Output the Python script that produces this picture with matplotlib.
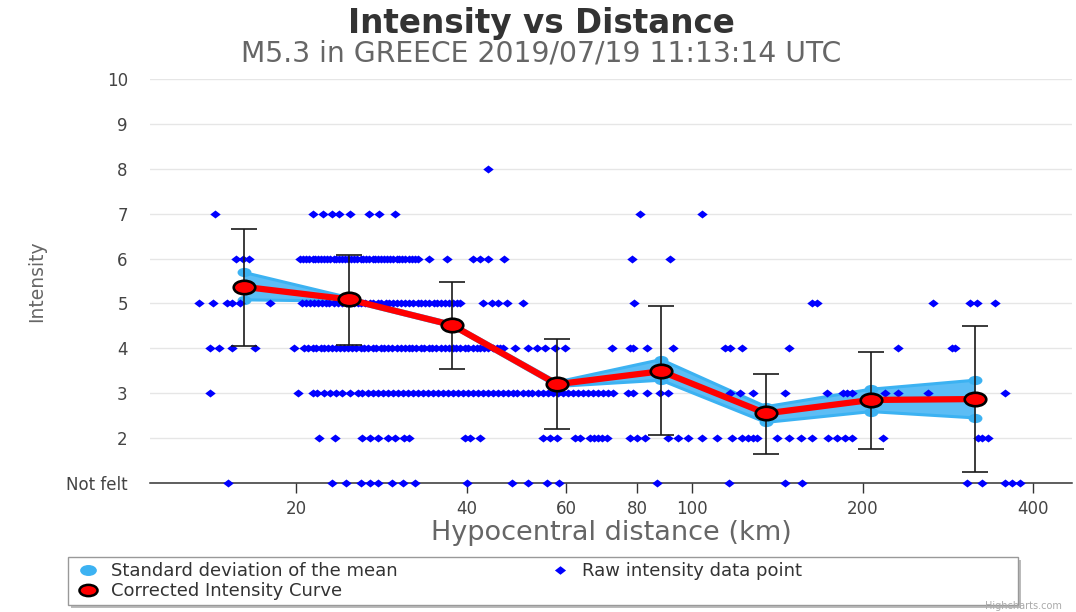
import matplotlib
matplotlib.use('Agg')
import matplotlib.pyplot as plt
from matplotlib.path import Path
from matplotlib.lines import Line2D
from matplotlib.patches import Rectangle

# ---------------- data ----------------
title = 'Intensity vs Distance'
subtitle = 'M5.3 in GREECE 2019/07/19 11:13:14 UTC'
x_label = 'Hypocentral distance (km)'
y_label = 'Intensity'
y_tick_values = [1, 2, 3, 4, 5, 6, 7, 8, 9, 10]
y_tick_labels = ['Not felt', '2', '3', '4', '5', '6', '7', '8', '9', '10']
x_tick_values = [20, 40, 60, 80, 100, 200, 400]
x_tick_labels = ['20', '40', '60', '80', '100', '200', '400']
legend_labels = ['Standard deviation of the mean', 'Corrected Intensity Curve',
                 'Raw intensity data point']

# raw observations: hypocentral distance (km) for each intensity level
raw_km_int1 = [15.2, 23.2, 24.5, 26.1, 27.0, 27.9, 29.6, 30.9, 32.5, 40.0, 48.2,
               51.4, 55.5, 58.3, 86.6, 116.2, 145.9, 156.6, 305.8, 325.0, 356.9,
               367.2, 379.3]
raw_km_int2 = [22.0, 23.4, 26.2, 27.0, 27.9, 29.1, 29.9, 31.0, 31.6, 39.7, 40.6,
               42.2, 54.6, 56.2, 57.8, 62.2, 63.4, 66.1, 67.1, 68.2, 69.3, 70.7,
               77.7, 80.0, 82.6, 90.7, 94.4, 98.4, 104.1, 110.6, 117.7, 122.5,
               125.6, 128.1, 130.2, 141.3, 148.3, 155.6, 162.8, 173.8, 180.4,
               186.2, 191.5, 217.2, 319.8, 325.2, 333.1]
raw_km_int3 = [14.1, 20.2, 21.4, 21.8, 22.4, 23.0, 23.5, 24.1, 24.9,
               25.7, 26.2, 26.8, 27.3, 27.9, 28.5, 29.1, 29.7, 30.3, 30.9, 31.5,
               32.2, 32.8, 33.5, 34.2, 34.9, 35.6, 36.3, 37.1, 37.8, 38.6, 39.4,
               40.2, 41.0, 41.9, 42.7, 43.6, 44.5, 45.4, 46.3, 47.3, 48.3, 49.2,
               50.3, 51.3, 52.3, 53.4, 54.5, 55.6, 56.8, 57.9, 59.1, 60.3, 61.6,
               62.8, 64.1, 65.5, 66.8, 68.2, 69.6, 71.0, 72.5,
               77.0, 78.8, 83.3, 87.8, 90.7, 116.7, 121.5, 128.1, 145.9, 173.1,
               184.5, 188.1, 191.3, 219.1, 231.5, 261.0, 356.9]
raw_km_int4 = [14.1, 14.6, 15.4, 16.9, 19.8,
               20.7, 21.0, 21.4, 21.7, 22.1, 22.4, 22.8, 23.2, 23.5, 23.9, 24.3,
               24.7, 25.1, 25.5, 26.0, 26.4, 26.8, 27.3, 27.7, 28.2, 28.6, 29.1,
               29.6, 30.1, 30.6, 31.1, 31.6, 32.1, 32.6, 33.2, 33.7, 34.3, 34.8,
               35.4, 36.0, 36.6, 37.2, 37.8, 38.4, 39.0, 39.7, 40.3, 41.0, 41.7,
               42.3, 43.0, 43.7, 44.5, 45.2, 45.9, 46.4,
               48.7, 51.4, 53.3, 55.0, 57.4, 59.7,
               72.3, 77.7, 78.8, 83.3, 92.5, 114.3, 116.7, 122.5, 148.3, 231.0,
               287.8, 291.5]
raw_km_int5 = [13.5, 14.3, 15.1, 15.4, 15.9, 18.0,
               20.5, 20.8, 21.2, 21.5, 21.9, 22.2, 22.6, 22.9, 23.3, 23.7, 24.1,
               24.5, 24.9, 25.3, 25.7, 26.1, 26.5, 27.0, 27.4, 27.9, 28.3, 28.8,
               29.2, 29.7, 30.2, 30.7, 31.2, 31.7, 32.2, 32.8, 33.3, 33.8, 34.4,
               35.0, 35.5, 36.1, 36.7, 37.3, 37.9, 38.5, 39.0,
               42.7, 44.4, 45.5, 47.1, 50.3, 79.0, 162.8, 166.2, 266.3, 309.6,
               318.5, 342.7]
raw_km_int6 = [15.7, 16.1, 16.5,
               20.3, 20.6, 20.8, 21.1, 21.4, 21.6, 21.9, 22.1, 22.4, 22.7, 23.0,
               23.3, 23.5, 23.8, 24.1, 24.4, 24.7, 25.0, 25.3, 25.6, 26.0, 26.3,
               26.6, 26.9, 27.3, 27.6, 27.9, 28.3, 28.6, 29.0, 29.3, 29.7, 30.1,
               30.4, 30.8, 31.2, 31.6, 32.0, 32.4, 32.9,
               34.3, 36.9, 41.1, 42.2, 43.6, 46.6, 78.3, 91.4]
raw_km_int7 = [14.4, 21.4, 22.3, 23.2, 23.8, 24.9, 26.9, 28.0, 29.9, 81.0, 104.2]
raw_km_int8 = [43.6]

# binned means
mean_km = [16.2, 24.8, 37.7, 57.8, 88.2, 135.1, 207.0, 316.0]
mean_intensity = [5.37, 5.09, 4.52, 3.20, 3.49, 2.55, 2.85, 2.87]
sdm_upper = [5.69, 5.13, 4.56, 3.25, 3.75, 2.70, 3.09, 3.29]
sdm_lower = [5.08, 5.05, 4.48, 3.15, 3.29, 2.35, 2.59, 2.45]
err_upper = [6.66, 6.09, 5.47, 4.20, 4.94, 3.43, 3.92, 4.50]
err_lower = [4.05, 4.07, 3.55, 2.20, 2.08, 1.64, 1.75, 1.25]

# ---------------- style ----------------
RAW_BLUE = '#0000ff'
BAND_FILL = '#5cbdf5'
BAND_EDGE = '#3cb2f2'
RED = '#ff0000'
plt.rcParams['font.family'] = ['DejaVu Sans']

W, H = 1076, 612
fig = plt.figure(figsize=(W / 100, H / 100), dpi=100)
fig.patch.set_facecolor('white')
ax = fig.add_axes([150 / W, 129 / H, 922 / W, 404 / H])

# custom markers (wide diamond, wide ellipse)
diamond = [(-1.3, 0), (0, 1), (1.3, 0), (0, -1)]
uc = Path.unit_circle()
ellipse = Path(uc.vertices * [1.6, 1.0], uc.codes)

ax.set_xscale('log')
ax.set_xlim(11.05, 468.6)
ax.set_ylim(1, 10)

# band (standard deviation of the mean)
ax.fill_between(mean_km, sdm_lower, sdm_upper, color=BAND_FILL, lw=0, zorder=2)
ax.plot(mean_km, sdm_upper, color=BAND_EDGE, lw=2.2, zorder=2.1,
        marker=ellipse, ms=9, mfc=BAND_EDGE, mec=BAND_EDGE)
ax.plot(mean_km, sdm_lower, color=BAND_EDGE, lw=2.2, zorder=2.1,
        marker=ellipse, ms=9, mfc=BAND_EDGE, mec=BAND_EDGE)

# raw data
raw_sets = [raw_km_int1, raw_km_int2, raw_km_int3, raw_km_int4,
            raw_km_int5, raw_km_int6, raw_km_int7, raw_km_int8]
for level, kms in zip(range(1, 9), raw_sets):
    ax.plot(kms, [level] * len(kms), ls='none', marker=diamond, ms=7.5,
            color=RAW_BLUE, mec=RAW_BLUE, mew=0, clip_on=False, zorder=3)

# error bars
yerr = [[m - lo for m, lo in zip(mean_intensity, err_lower)],
        [hi - m for m, hi in zip(mean_intensity, err_upper)]]
ax.errorbar(mean_km, mean_intensity, yerr=yerr, fmt='none', ecolor='#1a1a1a',
            elinewidth=1.2, capsize=9.4, capthick=1.2, zorder=4)

# corrected intensity curve
ax.plot(mean_km, mean_intensity, color=RED, lw=4.5, zorder=5,
        solid_capstyle='round', solid_joinstyle='round')
ax.plot(mean_km, mean_intensity, ls='none', marker=ellipse, ms=15.5,
        mfc=RED, mec='black', mew=1.9, zorder=6)

# axes styling
for s in ['top', 'right', 'left']:
    ax.spines[s].set_visible(False)
ax.spines['bottom'].set_color('#333333')
ax.spines['bottom'].set_linewidth(1.1)
ax.spines['bottom'].set_zorder(2.5)

ax.set_yticks(y_tick_values)
ax.set_yticklabels(y_tick_labels)
ax.yaxis.grid(True, color='#e6e6e6', lw=1)
ax.set_axisbelow(True)
ax.tick_params(axis='y', length=0, pad=16, labelsize=12, labelcolor='#444444')

ax.set_xticks(x_tick_values)
ax.set_xticklabels(x_tick_labels)
ax.xaxis.set_minor_locator(matplotlib.ticker.NullLocator())
ax.tick_params(axis='x', which='major', direction='out', length=7.5, width=1,
               color='#333333', pad=5, labelsize=12, labelcolor='#444444')

ax.set_xlabel(x_label, fontsize=19.5, color='#666666')
ax.xaxis.set_label_coords(0.5, (483 - 533) / 404)
ax.xaxis.label.set_va('center')
ax.set_ylabel(y_label, fontsize=13.5, color='#666666')
ax.yaxis.set_label_coords((37 - 150) / 922, 0.5)
ax.yaxis.label.set_va('center')

# titles
fig.text(541.5 / W, 1 - 23 / H, title, ha='center', va='center', fontsize=23.5,
         fontweight='bold', color='#333333')
fig.text(541 / W, 1 - 53 / H, subtitle, ha='center', va='center', fontsize=20.3,
         color='#666666')

# legend box with shadow
fig.patches.append(Rectangle((71 / W, (H - 608) / H), 950 / W, 48 / H,
                             transform=fig.transFigure, facecolor='#bbbbbb',
                             edgecolor='none', zorder=0))
fig.patches.append(Rectangle((68 / W, (H - 605) / H), 950 / W, 48 / H,
                             transform=fig.transFigure, facecolor='white',
                             edgecolor='#999999', lw=1, zorder=1))

h_std = Line2D([], [], ls='none', marker=ellipse, ms=11, mfc=BAND_EDGE, mec=BAND_EDGE)
h_cor = Line2D([], [], ls='none', marker=ellipse, ms=13, mfc=RED, mec='black', mew=1.8)
h_raw = Line2D([], [], ls='none', marker=diamond, ms=8, mfc=RAW_BLUE, mec=RAW_BLUE, mew=0)
leg = fig.legend([h_std, h_cor, h_raw], legend_labels, loc='upper left',
                 bbox_to_anchor=(79 / W, (H - 562) / H), ncol=2, frameon=False,
                 fontsize=13, handlelength=1.0, handletextpad=0.75,
                 columnspacing=8.5, labelspacing=0.12, borderpad=0,
                 borderaxespad=0)
for t in leg.get_texts():
    t.set_color('#333333')

fig.text(1062 / W, 1 / H, 'Highcharts.com', ha='right', va='bottom', fontsize=7,
         color='#aaaaaa')

fig.savefig('out.png', dpi=100, facecolor='white')
